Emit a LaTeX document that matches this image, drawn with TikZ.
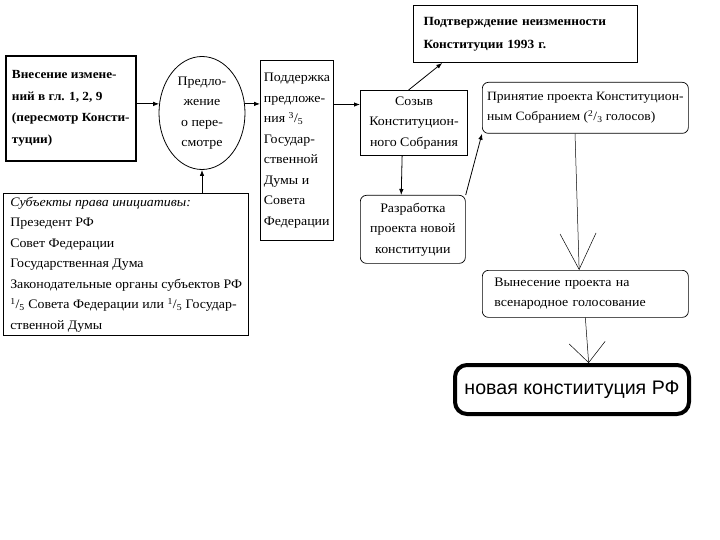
\documentclass[tikz,border=0pt]{standalone}
\usepackage{fontspec}
\setmainfont{Liberation Serif}[FakeStretch=1.07]
\newfontfamily\sansfont{Liberation Sans}
\usetikzlibrary{shapes.geometric,arrows.meta,calc}
\newcommand\frc[2]{\textsuperscript{#1}/\textsubscript{#2}}

\tikzset{
  box/.style={draw, line width=1pt, anchor=north west, inner sep=0pt, align=left,
    font=\fontsize{13}{20.5}\selectfont},
  rbox/.style={box, rounded corners=6pt, line width=0.7pt},
  arr/.style={-{Latex[length=6pt,width=4.5pt]}, line width=0.8pt},
  barb/.style={-{Straight Barb[length=#1,width=36pt]}, line width=0.5pt},
}

\begin{document}
\begin{tikzpicture}[x=1pt,y=-1pt]
\useasboundingbox (0,0) rectangle (720,540);
\node[box, line width=1.6pt, minimum width=130pt, minimum height=105pt,
  font=\fontsize{12.4}{21.5}\selectfont\bfseries] (vnes) at (5,55)
  {Внесение измене-\\ний в гл. 1, 2, 9\\(пересмотр Консти-\\туции)};
\node[draw, ellipse, line width=0.8pt, minimum width=86pt, minimum height=113pt, inner sep=0pt,
  align=center, font=\fontsize{13}{20.5}\selectfont] (predl) at (202,113)
  {Предло-\\жение\\о пере-\\смотре};
\node[box, line width=1.4pt, minimum width=245pt, minimum height=142pt] (subj) at (3,193)
  {\textit{Субъекты права инициативы:}\\Презедент РФ\\Совет Федерации\\Государственная Дума\\
   Законодательные органы субъектов РФ\\\frc{1}{5} Совета Федерации или \frc{1}{5} Государ-\\ственной Думы};
\node[box, minimum width=73pt, minimum height=180pt] (podd) at (260,60)
  {Поддержка\\предложе-\\ния \frc{3}{5}\\Государ-\\ственной\\Думы и\\Совета\\Федерации};
\node[box, align=center, minimum width=107pt, minimum height=65pt] (sozyv) at (360,90)
  {Созыв\\Конституцион-\\ного Собрания};
\node[box, inner xsep=10pt, text width=204pt, minimum height=57pt,
  font=\fontsize{12.5}{23}\selectfont\bfseries] (podtv) at (413,5)
  {Подтверждение неизменности\\Конституции 1993 г.};
\node[rbox, minimum width=206pt, minimum height=51pt, font=\fontsize{12.7}{20.5}\selectfont] (prin) at (482,82)
  {Принятие проекта Конституцион-\\ным Собранием (\frc{2}{3} голосов)};
\node[rbox, align=center, minimum width=105pt, minimum height=68pt] (razr) at (360,195)
  {Разработка\\проекта новой\\конституции};
\node[rbox, inner xsep=12pt, text width=182pt, minimum height=47pt] (vyn) at (482,270)
  {Вынесение проекта на\\всенародное голосование};
\node[box, rounded corners=12pt, line width=4pt, align=center, minimum width=234pt,
  minimum height=49pt, font=\sansfont\fontsize{19.6}{24}\selectfont] (nov) at (453,363)
  {новая констиитуция РФ};

\coordinate (sz) at ($(sozyv.north west)!0.22!(sozyv.south west)$);
\draw[arr] (vnes.east |- predl.168) -- (predl.168);
\draw[arr] (predl.12) -- (predl.12 -| podd.west);
\draw[arr] (subj.north -| predl.south) -- (predl.south);
\draw[arr] (sz -| podd.east) -- (sz);
\draw[arr] ($(sozyv.north west)!0.45!(sozyv.north east)$) -- ($(podtv.south west)!0.13!(podtv.south east)$);
\draw[arr] ($(sozyv.south west)!0.39!(sozyv.south east)$) -- ($(razr.north west)!0.39!(razr.north east)$);
\draw[arr] (razr.north east) -- (prin.south west);
\draw[barb=36pt] ($(prin.south west)!0.45!(prin.south east)$) -- ($(vyn.north west)!0.47!(vyn.north east)$);
\draw[barb=20pt] ($(vyn.south west)!0.5!(vyn.south east)$) -- ($(nov.north west)!0.57!(nov.north east)$);
\end{tikzpicture}
\end{document}
